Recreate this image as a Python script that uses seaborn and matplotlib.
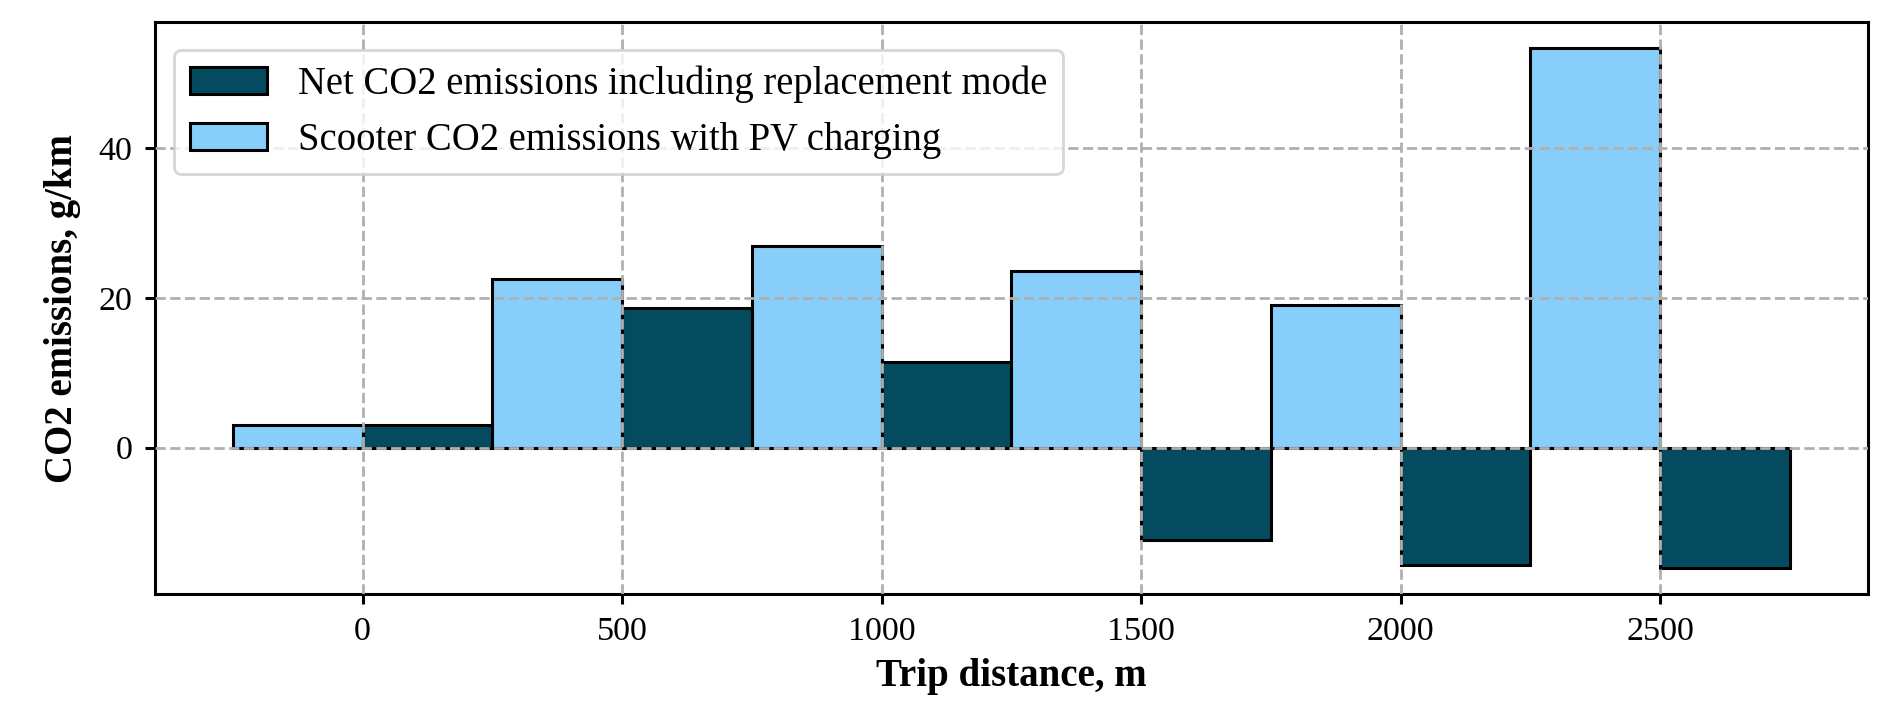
import pandas as pd
import seaborn as sns
import matplotlib.pyplot as plt
from matplotlib.patches import Patch

# data
distances = [0, 500, 1000, 1500, 2000, 2500]
scooter_pv = [3.1, 22.5, 27.0, 23.6, 19.0, 53.4]
net_replacement = [3.1, 18.7, 11.5, -12.3, -15.7, -16.1]

label_net = "Net CO2 emissions including replacement mode"
label_scooter = "Scooter CO2 emissions with PV charging"

df = pd.DataFrame({
    "dist": distances * 2,
    "co2": scooter_pv + net_replacement,
    "series": [label_scooter] * len(distances) + [label_net] * len(distances),
})

sns.set_theme(style="ticks")
plt.rcParams['font.family'] = ['Liberation Serif', 'DejaVu Serif']
plt.rcParams['axes.linewidth'] = 1.1
plt.rcParams['axes.edgecolor'] = 'black'
plt.rcParams['text.color'] = 'black'
plt.rcParams['axes.labelcolor'] = 'black'
plt.rcParams['xtick.color'] = 'black'
plt.rcParams['ytick.color'] = 'black'
plt.rcParams['xtick.major.width'] = 1.1
plt.rcParams['ytick.major.width'] = 1.1
plt.rcParams['xtick.major.size'] = 3.6
plt.rcParams['ytick.major.size'] = 3.6

colors = {label_scooter: "#87CEFA", label_net: "#054B5F"}

fig, ax = plt.subplots(figsize=(9.51, 3.525), dpi=200)
fig.subplots_adjust(left=0.0815, right=0.982, top=0.969, bottom=0.157)

sns.barplot(
    data=df, x="dist", y="co2", hue="series",
    hue_order=[label_scooter, label_net], palette=colors,
    native_scale=True, width=1.0, saturation=1, errorbar=None,
    edgecolor="black", linewidth=1.1, ax=ax, legend=False
)

ax.set_xlim(-400, 2900)
ax.set_xticks(distances)
ax.set_yticks([0, 20, 40])
ax.tick_params(labelsize=12.3, pad=4.5)
ax.grid(True, linestyle="--", color="#b0b0b0", linewidth=1.0)
ax.set_axisbelow(False)

ax.set_xlabel("Trip distance, m", fontsize=14, fontweight="bold")
ax.set_ylabel("CO2 emissions, g/km", fontsize=14, fontweight="bold", labelpad=6.5)

handles = [
    Patch(facecolor=colors[label_net], edgecolor="black", linewidth=1.1, label=label_net),
    Patch(facecolor=colors[label_scooter], edgecolor="black", linewidth=1.1, label=label_scooter),
]
ax.legend(handles=handles, loc="upper left", bbox_to_anchor=(0.0, 0.985),
          fontsize=13.9, fancybox=True, framealpha=0.8)

fig.savefig("out.png", dpi=200)
